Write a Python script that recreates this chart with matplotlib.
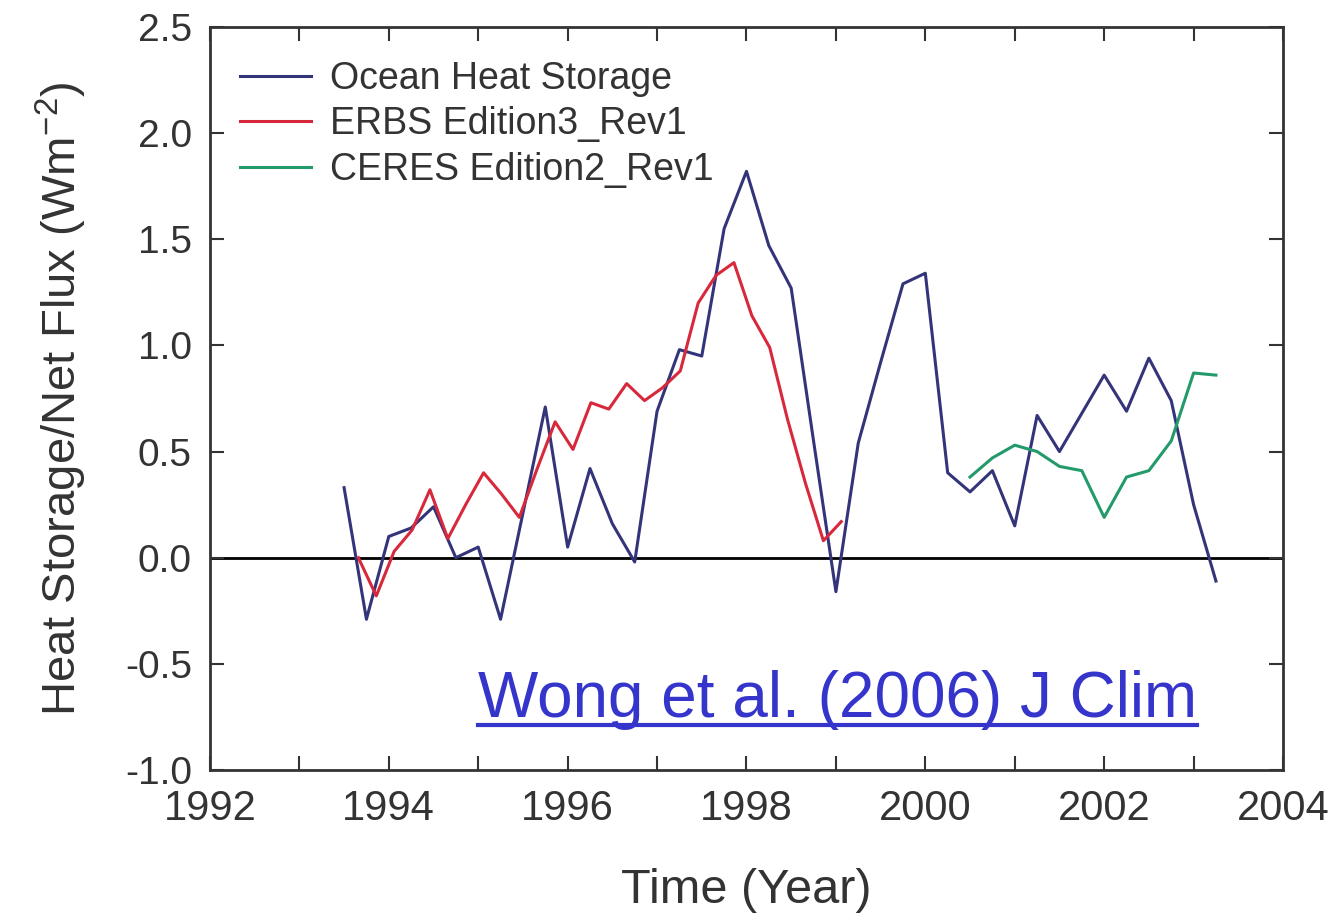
import matplotlib
matplotlib.use('Agg')
import matplotlib.pyplot as plt
from matplotlib.ticker import MultipleLocator
from matplotlib.lines import Line2D

plt.rcParams['font.family'] = ['Liberation Sans', 'DejaVu Sans']
plt.rcParams['mathtext.fontset'] = 'custom'
plt.rcParams['mathtext.rm'] = 'Liberation Sans'
plt.rcParams['mathtext.it'] = 'Liberation Sans'
plt.rcParams['axes.unicode_minus'] = False

# Ocean heat storage (quarterly)
ohs_year = [1993.5, 1993.75, 1994.0, 1994.25, 1994.5, 1994.75, 1995.0, 1995.25,
            1995.5, 1995.75, 1996.0, 1996.25, 1996.5, 1996.75, 1997.0, 1997.25,
            1997.5, 1997.75, 1998.0, 1998.25, 1998.5, 1998.75, 1999.0, 1999.25,
            1999.5, 1999.75, 2000.0, 2000.25, 2000.5, 2000.75, 2001.0, 2001.25,
            2001.5, 2001.75, 2002.0, 2002.25, 2002.5, 2002.75, 2003.0, 2003.25]
ohs_val = [0.33, -0.29, 0.10, 0.14, 0.24, 0.00, 0.05, -0.29,
           0.21, 0.71, 0.05, 0.42, 0.16, -0.02, 0.69, 0.98,
           0.95, 1.55, 1.82, 1.47, 1.27, 0.55, -0.16, 0.54,
           0.92, 1.29, 1.34, 0.40, 0.31, 0.41, 0.15, 0.67,
           0.50, 0.68, 0.86, 0.69, 0.94, 0.74, 0.25, -0.11]

# ERBS Edition3_Rev1 (72-day means)
erbs_year = [1993.66, 1993.86, 1994.06, 1994.26, 1994.46, 1994.66, 1994.86, 1995.06,
             1995.26, 1995.46, 1995.66, 1995.86, 1996.06, 1996.26, 1996.46, 1996.66,
             1996.86, 1997.06, 1997.26, 1997.46, 1997.66, 1997.86, 1998.06, 1998.26,
             1998.46, 1998.66, 1998.86, 1999.06]
erbs_val = [0.00, -0.18, 0.03, 0.13, 0.32, 0.09, 0.25, 0.40,
            0.30, 0.19, 0.42, 0.64, 0.51, 0.73, 0.70, 0.82,
            0.74, 0.80, 0.88, 1.20, 1.33, 1.39, 1.14, 0.99,
            0.65, 0.35, 0.08, 0.17]

# CERES Edition2_Rev1
ceres_year = [2000.5, 2000.75, 2001.0, 2001.25, 2001.5, 2001.75,
              2002.0, 2002.25, 2002.5, 2002.75, 2003.0, 2003.25]
ceres_val = [0.38, 0.47, 0.53, 0.50, 0.43, 0.41,
             0.19, 0.38, 0.41, 0.55, 0.87, 0.86]

fig = plt.figure(figsize=(13.33, 9.17), dpi=100)
ax = fig.add_axes([0.1575, 0.1603, 0.805, 0.8103])

ax.axhline(0, color='black', lw=2.0, zorder=1)
ax.plot(ohs_year, ohs_val, color='#34347a', lw=2.2, label='Ocean Heat Storage')
ax.plot(erbs_year, erbs_val, color='#d8283c', lw=2.2, label='ERBS Edition3_Rev1')
ax.plot(ceres_year, ceres_val, color='#239a6a', lw=2.2, label='CERES Edition2_Rev1')

ax.set_xlim(1992, 2004)
ax.set_ylim(-1.0, 2.5)
ax.xaxis.set_major_locator(MultipleLocator(2))
ax.xaxis.set_minor_locator(MultipleLocator(1))
ax.yaxis.set_major_locator(MultipleLocator(0.5))
ax.yaxis.set_major_formatter(plt.FormatStrFormatter('%.1f'))

ax.tick_params(which='both', direction='in', top=True, right=True,
               length=10, width=1.5, color='#333333')
ax.tick_params(axis='x', which='major', labelsize=30, colors='#333333', pad=14)
ax.tick_params(axis='y', which='major', labelsize=28, colors='#333333', pad=13)
for s in ax.spines.values():
    s.set_linewidth(2.0)
    s.set_color('#333333')

ax.set_xlabel('Time (Year)', fontsize=35, color='#333333', labelpad=28)
ax.set_ylabel('Heat Storage/Net Flux (Wm$^{-2}$)', fontsize=34, color='#333333', labelpad=26)

ax.legend(loc='upper left', bbox_to_anchor=(-0.003, 1.0), frameon=False,
          fontsize=27, handlelength=1.87, labelspacing=0.26, handletextpad=0.53,
          labelcolor='#333333')

link = fig.text(0.3585, 0.218, 'Wong et al. (2006) J Clim', fontsize=46,
                color='#3535cc', ha='left', va='baseline')
fig.canvas.draw()
bb = link.get_window_extent().transformed(fig.transFigure.inverted())
uy = 0.218 - 0.009
fig.add_artist(Line2D([bb.x0, bb.x1], [uy, uy], transform=fig.transFigure,
                      color='#3535cc', lw=3))

fig.savefig('out.png', dpi=100)
